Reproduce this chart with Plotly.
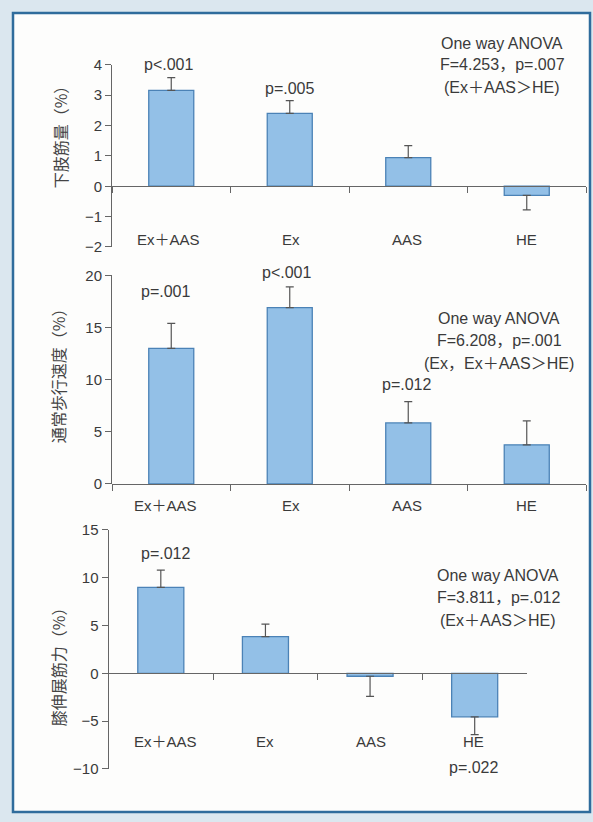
import plotly.graph_objects as go

# ---------------- data ----------------
categories = ["Ex＋AAS", "Ex", "AAS", "HE"]

muscle_mass = [3.16, 2.40, 0.94, -0.30]
muscle_mass_err = [0.42, 0.42, 0.40, 0.48]

gait_speed = [13.0, 16.9, 5.85, 3.75]
gait_speed_err = [2.4, 2.0, 2.05, 2.3]

knee_ext = [9.0, 3.85, -0.3, -4.55]
knee_ext_err = [1.8, 1.3, 2.1, 1.85]

y_titles = ["下肢筋量（%）", "通常歩行速度（%）", "膝伸展筋力（%）"]
anova_texts = [
    ["One way ANOVA", "F=4.253，p=.007", "(Ex＋AAS＞HE)"],
    ["One way ANOVA", "F=6.208，p=.001", "(Ex，Ex＋AAS＞HE)"],
    ["One way ANOVA", "F=3.811，p=.012", "(Ex＋AAS＞HE)"],
]
p_labels = [
    {"Ex＋AAS": "p<.001", "Ex": "p=.005"},
    {"Ex＋AAS": "p=.001", "Ex": "p<.001", "AAS": "p=.012"},
    {"Ex＋AAS": "p=.012", "HE": "p=.022"},
]

# ---------------- layout helpers ----------------
W, H = 593, 822
def px(x):
    return x / W
def py(y):
    return 1 - y / H

LATIN = "Liberation Sans, Arial, Noto Sans CJK JP"
CJK = "Noto Sans CJK JP"
TXT = "#3a3a3a"
AX = "#666666"
BAR_FILL = "#93c0e7"
BAR_LINE = "#4b82b6"

panels = [
    dict(x0=112, x1=586, yt=57, yb=243, rng=[-2, 4], dtick=1, bw=0.38,
         vals=muscle_mass, err=muscle_mass_err),
    dict(x0=112, x1=586, yt=272, yb=485, rng=[0, 20], dtick=5, bw=0.38,
         vals=gait_speed, err=gait_speed_err),
    dict(x0=108.5, x1=527, yt=532, yb=776, rng=[-10, 15], dtick=5, bw=0.44,
         vals=knee_ext, err=knee_ext_err),
]

fig = go.Figure()
annotations = []

ytitle_pos = [(60, 127), (58, 371), (58, 668)]
anova_pos = [(502, [35, 57, 80]), (499, [316, 339, 362]), (498, [578, 601, 624])]
catlabel_y = [235, 507, 748]
catlabel_x = [[168, 291, 407, 526], [166, 291, 407, 526], [165, 265, 371, 473]]
p_pos = [
    {"Ex＋AAS": (168, 57), "Ex": (289, 81)},
    {"Ex＋AAS": (166, 288), "Ex": (286, 269), "AAS": (407, 383)},
    {"Ex＋AAS": (165, 556), "HE": (473, 775)},
]

for i, p in enumerate(panels):
    n = i + 1
    xa = "x" if n == 1 else f"x{n}"
    ya = "y" if n == 1 else f"y{n}"
    plus = [e if v >= 0 else 0 for v, e in zip(p["vals"], p["err"])]
    minus = [0 if v >= 0 else e for v, e in zip(p["vals"], p["err"])]
    fig.add_trace(go.Bar(
        x=categories, y=p["vals"], width=p["bw"],
        marker=dict(color=BAR_FILL, line=dict(color=BAR_LINE, width=1.3)),
        error_y=dict(type="data", symmetric=False, array=plus, arrayminus=minus,
                     color="#555555", thickness=1.2, width=4),
        xaxis=xa, yaxis=ya, showlegend=False, hoverinfo="skip",
    ))
    dom_x = [px(p["x0"]), px(p["x1"])]
    dom_y = [py(p["yb"]), py(p["yt"])]
    r0, r1 = p["rng"]
    zero_pos = dom_y[0] + (0 - r0) / (r1 - r0) * (dom_y[1] - dom_y[0])
    xkey = "xaxis" if n == 1 else f"xaxis{n}"
    ykey = "yaxis" if n == 1 else f"yaxis{n}"
    fig.update_layout(**{
        xkey: dict(domain=dom_x, type="category", categoryorder="array",
                   categoryarray=categories, range=[-0.5, 3.5],
                   anchor="free", position=zero_pos,
                   showline=True, linecolor=AX, linewidth=1,
                   ticks="outside", tickson="boundaries", ticklen=6,
                   tickcolor=AX, showticklabels=False, showgrid=False,
                   zeroline=False, fixedrange=True),
        ykey: dict(domain=dom_y, range=p["rng"], dtick=p["dtick"],
                   anchor=xa, showline=True, linecolor=AX, linewidth=1,
                   ticks="outside", ticklen=6, tickcolor=AX,
                   tickfont=dict(family=LATIN, size=15, color=TXT),
                   showgrid=False, zeroline=False, fixedrange=True),
    })

    tx, ty = ytitle_pos[i]
    annotations.append(dict(x=px(tx), y=py(ty), xref="paper", yref="paper",
                            text=y_titles[i], textangle=-90, showarrow=False,
                            font=dict(family=CJK, size=16, color="#444444"),
                            xanchor="center", yanchor="middle"))
    ax_, ays = anova_pos[i]
    for line, yy in zip(anova_texts[i], ays):
        annotations.append(dict(x=px(ax_), y=py(yy), xref="paper", yref="paper",
                                text=line, showarrow=False,
                                font=dict(family=LATIN, size=16, color=TXT),
                                xanchor="center", yanchor="middle"))
    for c, cx in zip(categories, catlabel_x[i]):
        annotations.append(dict(x=px(cx), y=py(catlabel_y[i]), xref="paper", yref="paper",
                                text=c, showarrow=False,
                                font=dict(family=LATIN, size=15, color=TXT),
                                xanchor="center", yanchor="middle"))
    for c, lab in p_labels[i].items():
        lx, ly = p_pos[i][c]
        annotations.append(dict(x=px(lx), y=py(ly), xref="paper", yref="paper",
                                text=lab, showarrow=False,
                                font=dict(family=LATIN, size=16, color=TXT),
                                xanchor="center", yanchor="middle"))

fig.update_layout(
    width=W, height=H,
    margin=dict(l=0, r=0, t=0, b=0),
    paper_bgcolor="#dbe7ef",
    plot_bgcolor="rgba(0,0,0,0)",
    annotations=annotations,
    shapes=[dict(type="rect", xref="paper", yref="paper",
                 x0=px(13), x1=px(590), y0=py(820), y1=py(4),
                 fillcolor="#fdfdfc", line=dict(color="#2f6c9c", width=2.5),
                 layer="below")],
)

fig.write_html(
    "out.html",
    post_script="document.body.style.margin='0';document.body.style.overflow='hidden';",
    config={"displayModeBar": False},
)
